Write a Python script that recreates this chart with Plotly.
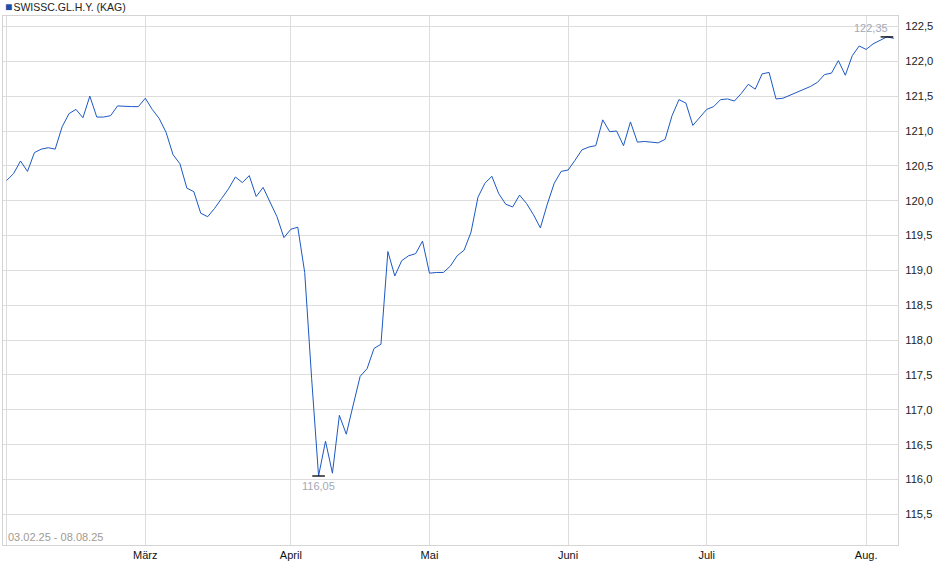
import numpy as np
import pandas as pd
import plotly.graph_objects as go

series_name = "SWISSC.GL.H.Y. (KAG)"
period_label = "03.02.25 - 08.08.25"
holidays = ["2025-04-18", "2025-04-21", "2025-05-01", "2025-05-29", "2025-06-09", "2025-08-01"]
month_labels = {2: "", 3: "März", 4: "April", 5: "Mai", 6: "Juni", 7: "Juli", 8: "Aug."}

feb = [120.29, 120.39, 120.57, 120.42, 120.69, 120.74, 120.76, 120.74, 121.06, 121.25,
       121.31, 121.19, 121.50, 121.20, 121.20, 121.22, 121.36, 121.35, 121.35, 121.35]
mar = [121.47, 121.31, 121.18, 120.98, 120.66, 120.53, 120.18, 120.13, 119.82, 119.77,
       119.89, 120.03, 120.17, 120.34, 120.26, 120.36, 120.06, 120.19, 119.98, 119.77, 119.47]
apr = [119.59, 119.62, 118.97, 117.45, 116.05, 116.55, 116.09, 116.92, 116.65, 117.07,
       117.48, 117.59, 117.88, 117.94, 119.27, 118.92, 119.14, 119.21, 119.24, 119.42]
may = [118.96, 118.97, 118.97, 119.06, 119.21, 119.29, 119.55, 120.05, 120.25, 120.35,
       120.10, 119.95, 119.91, 120.08, 119.96, 119.80, 119.61, 119.95, 120.25, 120.42]
jun = [120.44, 120.58, 120.73, 120.77, 120.79, 121.16, 120.99, 121.00, 120.79, 121.13,
       120.84, 120.85, 120.84, 120.83, 120.88, 121.22, 121.45, 121.40, 121.08, 121.20]
jul = [121.31, 121.35, 121.45, 121.46, 121.43, 121.54, 121.67, 121.60, 121.82, 121.84,
       121.46, 121.47, 121.51, 121.55, 121.59, 121.64, 121.70, 121.81, 121.83, 122.01,
       121.80, 122.08, 122.22]
aug = [122.17, 122.25, 122.30, 122.35, 122.33]

values = feb + mar + apr + may + jun + jul + aug
dates = pd.bdate_range("2025-02-03", "2025-08-08")
dates = dates[~dates.isin(pd.to_datetime(holidays))]
assert len(dates) == len(values)
idx = np.arange(len(values))

months = list(dates.month)
first_idx = [i for i in range(len(months)) if i == 0 or months[i] != months[i - 1]]
tick_text = [month_labels[months[i]] for i in first_idx]

imin = int(np.argmin(values))
imax = int(np.argmax(values))

def fmt(v):
    return f"{v:.2f}".replace(".", ",")

line_color = "#1c58c4"
grid_color = "#dddddd"

fig = go.Figure()
fig.add_trace(go.Scatter(
    x=idx, y=values, mode="lines",
    line=dict(color=line_color, width=1),
    customdata=dates.strftime("%d.%m.%y"),
    hovertemplate="%{customdata}: %{y:.2f}<extra></extra>",
    showlegend=False,
))
fig.add_trace(go.Scatter(
    x=[imin, imax], y=[values[imin], values[imax]], mode="markers",
    marker=dict(symbol="line-ew", size=9, color="black", line=dict(color="black", width=1.3)),
    hoverinfo="skip", showlegend=False,
))

annotations = [
    dict(x=0, y=1, xref="paper", yref="paper", xanchor="left", yanchor="bottom",
         xshift=0, yshift=0, showarrow=False,
         text=(f'<span style="color:#1a4ea8;font-size:12px">■</span>'
               f'<span style="font-size:4px"> </span>{series_name}'),
         font=dict(size=10.5, color="#222")),
    dict(x=0, y=0, xref="paper", yref="paper", xanchor="left", yanchor="bottom",
         xshift=3, yshift=0, showarrow=False, text=period_label,
         font=dict(size=11, color="#a09a94")),
    dict(x=imin, y=values[imin], xref="x", yref="y", xanchor="center", yanchor="top",
         yshift=-2, showarrow=False, text=fmt(values[imin]),
         font=dict(size=11, color="#a3a8b6")),
    dict(x=imax, y=values[imax], xref="x", yref="y", xanchor="right", yanchor="bottom",
         xshift=3, yshift=1, showarrow=False, text=fmt(values[imax]),
         font=dict(size=11, color="#a3a8b6")),
]

fig.update_layout(
    width=940, height=579,
    margin=dict(l=3, r=42, t=16, b=34),
    plot_bgcolor="white", paper_bgcolor="white",
    separators=",.",
    font=dict(family="Liberation Sans, Arial, sans-serif", size=11, color="#222"),
    annotations=annotations,
    hovermode="closest",
)
fig.update_xaxes(
    range=[-0.53, 128.6], tickmode="array", tickvals=first_idx, ticktext=tick_text,
    showgrid=True, gridcolor=grid_color, gridwidth=1, zeroline=False,
    showline=True, linecolor="#d4d4d4", linewidth=1, mirror=True, ticks="",
    tickfont=dict(size=11, color="#111"),
)
fig.update_yaxes(
    side="right", range=[115.06, 122.65], tick0=115.5, dtick=0.5, tickformat=".1f",
    showgrid=True, gridcolor=grid_color, gridwidth=1, zeroline=False,
    showline=True, linecolor="#d4d4d4", linewidth=1, mirror=True, ticks="",
    ticklabelstandoff=4, tickfont=dict(size=11.2, color="#222"),
)

fig.write_html("out.html", config={"displayModeBar": False},
               post_script="document.body.style.margin='0';")
